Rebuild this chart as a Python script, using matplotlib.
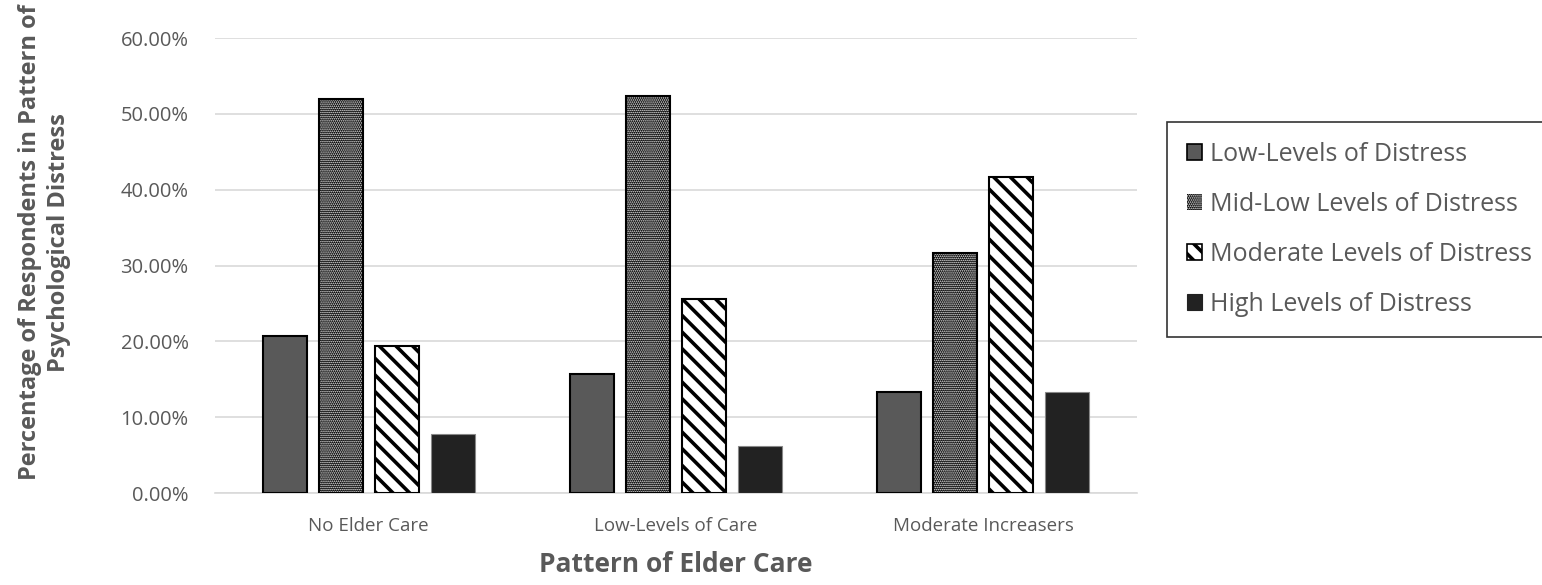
import numpy as np
import matplotlib as mpl
import matplotlib.pyplot as plt
from matplotlib.patches import Patch
from matplotlib.legend_handler import HandlerPatch

plt.rcParams['font.family'] = ['Open Sans', 'DejaVu Sans']

categories = ['No Elder Care', 'Low-Levels of Care', 'Moderate Increasers']
series_names = ['Low-Levels of Distress', 'Mid-Low Levels of Distress',
                'Moderate Levels of Distress', 'High Levels of Distress']
low = [20.7, 15.7, 13.3]
mid_low = [52.0, 52.3, 31.7]
moderate = [19.4, 25.6, 41.7]
high = [7.8, 6.2, 13.3]
yticks = [0, 10, 20, 30, 40, 50, 60]

text_gray = '#595959'
DOT_HATCH = '........'
DOT_LW = 0.8
STRIPE_HATCH = '\\\\'
STRIPE_LW = 2.6


def set_hatch_lw(patches, lw):
    for p in patches:
        if hasattr(p, 'set_hatch_linewidth'):
            p.set_hatch_linewidth(lw)


class HatchHandler(HandlerPatch):
    # keep each handle's own hatch line width in the legend
    def create_artists(self, legend, orig_handle, xdescent, ydescent,
                       width, height, fontsize, trans):
        arts = super().create_artists(legend, orig_handle, xdescent, ydescent,
                                      width, height, fontsize, trans)
        if hasattr(orig_handle, 'get_hatch_linewidth'):
            set_hatch_lw(arts, orig_handle.get_hatch_linewidth())
        return arts


fig = plt.figure(figsize=(15.42, 5.85), dpi=100)
ax = fig.add_axes([0.1394, 0.157, 0.598, 0.778])

x = np.arange(len(categories))
width = 0.143
pitch = 0.182
offsets = (np.arange(4) - 1.5) * pitch

# solid gray bars
ax.bar(x + offsets[0], low, width, color='#595959', edgecolor='black', linewidth=1.5, zorder=3)

# dotted bars: small white dots on black, outline drawn separately
mpl.rcParams['hatch.linewidth'] = DOT_LW
dots = ax.bar(x + offsets[1], mid_low, width, color='black', edgecolor='white',
              hatch=DOT_HATCH, linewidth=0, zorder=3)
set_hatch_lw(dots, DOT_LW)
ax.bar(x + offsets[1], mid_low, width, fill=False, edgecolor='black', linewidth=1.5, zorder=4)

# diagonal stripes
mpl.rcParams['hatch.linewidth'] = STRIPE_LW
stripes = ax.bar(x + offsets[2], moderate, width, color='white', edgecolor='black',
                 hatch=STRIPE_HATCH, linewidth=1.5, zorder=3)
set_hatch_lw(stripes, STRIPE_LW)

# dark bars
ax.bar(x + offsets[3], high, width, color='#222222', edgecolor='#888888', linewidth=0.8, zorder=3)

ax.set_xlim(-0.5, 2.5)
ax.set_ylim(0, 60)
ax.set_yticks(yticks)
ax.set_yticklabels([f'{v:.2f}%' for v in yticks])
ax.set_xticks(x)
ax.set_xticklabels(categories)
ax.tick_params(axis='y', length=0, labelsize=14.5, colors=text_gray, pad=19)
ax.tick_params(axis='x', length=0, labelsize=13.5, colors=text_gray, pad=17)
ax.grid(axis='y', color='#d9d9d9', linewidth=1.2, zorder=0)
for side in ['top', 'right', 'left']:
    ax.spines[side].set_visible(False)
ax.spines['bottom'].set_color('#d9d9d9')
ax.spines['bottom'].set_linewidth(1.2)

ax.set_xlabel('Pattern of Elder Care', fontsize=19, fontweight='bold', color=text_gray, labelpad=12)
fig.text(0.029, 0.586, 'Percentage of Respondents in Pattern of\nPsychological Distress',
         rotation=90, ha='center', va='center', fontsize=17, fontweight='bold',
         color=text_gray, linespacing=1.3)

dot_handle = Patch(facecolor='black', edgecolor='white', hatch=DOT_HATCH, linewidth=0)
set_hatch_lw([dot_handle], DOT_LW)
stripe_handle = Patch(facecolor='white', edgecolor='black', hatch=STRIPE_HATCH, linewidth=1.2)
set_hatch_lw([stripe_handle], STRIPE_LW)
handles = [
    Patch(facecolor='#595959', edgecolor='black', linewidth=1.2),
    dot_handle,
    stripe_handle,
    Patch(facecolor='#222222', edgecolor='#222222', linewidth=0.8),
]
leg = fig.legend(handles, series_names, loc='upper left', bbox_to_anchor=(0.757, 0.792),
                 fontsize=18, frameon=True, fancybox=False, handlelength=0.6,
                 handleheight=0.6, handletextpad=0.3, labelspacing=1.0,
                 borderpad=0.8, borderaxespad=0, labelcolor=text_gray,
                 handler_map={Patch: HatchHandler()})
leg.get_frame().set_edgecolor('black')
leg.get_frame().set_linewidth(1.2)

fig.savefig('out.png', dpi=100)
